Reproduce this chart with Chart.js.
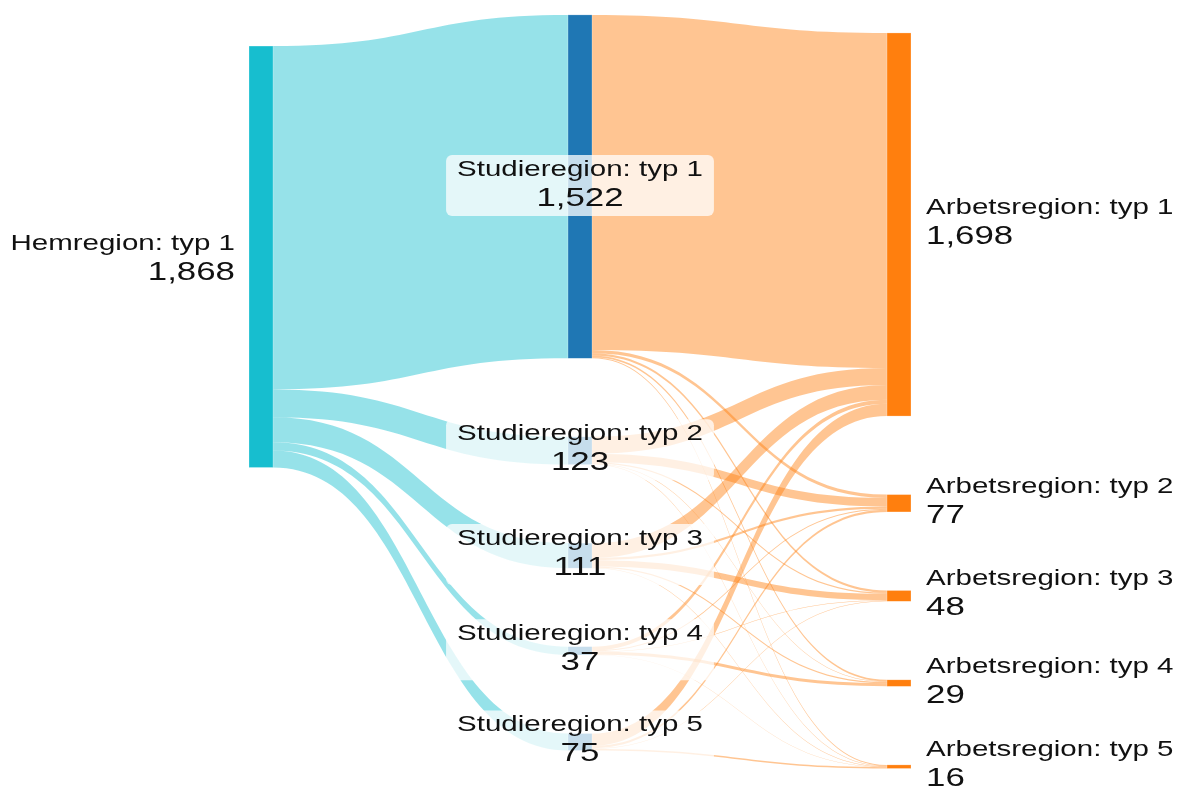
<!DOCTYPE html>
<html>
<head>
<meta charset="utf-8">
<script src="https://cdn.jsdelivr.net/npm/chart.js@4"></script>
<style>
  html, body { margin: 0; padding: 0; background: #fff; }
  canvas { display: block; }
</style>
</head>
<body>
<canvas id="grafico" width="1178" height="787"></canvas>
<script>
// noder, en lista per kolumn
const hemregioner = ["Hemregion: typ 1"];
const studieregioner = ["Studieregion: typ 1", "Studieregion: typ 2", "Studieregion: typ 3", "Studieregion: typ 4", "Studieregion: typ 5"];
const arbetsregioner = ["Arbetsregion: typ 1", "Arbetsregion: typ 2", "Arbetsregion: typ 3", "Arbetsregion: typ 4", "Arbetsregion: typ 5"];

// flöden hem -> studie
const hemTillStudie = [1522, 123, 111, 37, 75];

// flöden studie -> arbete (en rad per studieregion, kolumn = arbetsregion typ 1..5)
const studie1TillArbete = [1485, 15, 10, 7, 5];
const studie2TillArbete = [75, 38, 5, 3, 2];
const studie3TillArbete = [66, 10, 28, 5, 2];
const studie4TillArbete = [17, 4, 2, 13, 1];
const studie5TillArbete = [55, 10, 3, 1, 6];

// utseende
const nodFarger = ["#17becf", "#1f77b4", "#ff7f0e"];
const flodFarger = ["rgba(23,190,207,0.45)", "rgba(255,127,14,0.45)"];
const nodBredd = 24;
const kolumnTopp = [204, 66, 146];   // i y-skalans enheter
const nodAvstand = 348;
const strack = 1.34;                 // bilden är utdragen på bredden
const textFarg = "#111";

let kolumner = [hemregioner, studieregioner, arbetsregioner];
let studieTillArbete = [studie1TillArbete, studie2TillArbete, studie3TillArbete, studie4TillArbete, studie5TillArbete];

// bygg flöden
let floden = [];
hemTillStudie.forEach((v, j) => floden.push({ k: 0, s: 0, t: j, v: v }));
studieTillArbete.forEach((rad, i) => {
  rad.forEach((v, j) => floden.push({ k: 1, s: i, t: j, v: v }));
});

// nodvärden = max(in, ut)
let nodVarden = kolumner.map(lista => lista.map(() => ({ in: 0, ut: 0 })));
floden.forEach(f => {
  nodVarden[f.k][f.s].ut += f.v;
  nodVarden[f.k + 1][f.t].in += f.v;
});
nodVarden = nodVarden.map(lista => lista.map(n => Math.max(n.in, n.ut)));

function textRad(ctx, text, x, y, storlek, justering) {
  ctx.save();
  ctx.font = storlek + "px 'Liberation Sans', Arial, sans-serif";
  ctx.textAlign = justering;
  ctx.textBaseline = "alphabetic";
  ctx.translate(x, y);
  ctx.scale(strack, 1);
  ctx.fillText(text, 0, 0);
  ctx.restore();
}

function textBredd(ctx, text, storlek) {
  ctx.font = storlek + "px 'Liberation Sans', Arial, sans-serif";
  return ctx.measureText(text).width * strack;
}

const sankeyPlugin = {
  id: "sankey",
  afterDatasetsDraw(chart) {
    let ctx = chart.ctx;
    let xs = chart.scales.x;
    let ys = chart.scales.y;

    // nodernas lägen i skalans enheter
    let toppar = kolumner.map((lista, c) => {
      let y = kolumnTopp[c];
      return lista.map((n, i) => {
        let t = y;
        y += nodVarden[c][i] + nodAvstand;
        return t;
      });
    });

    let utOff = kolumner.map(lista => lista.map(() => 0));
    let inOff = kolumner.map(lista => lista.map(() => 0));

    // flöden
    floden.forEach(f => {
      let a = toppar[f.k][f.s] + utOff[f.k][f.s];
      let b = toppar[f.k + 1][f.t] + inOff[f.k + 1][f.t];
      utOff[f.k][f.s] += f.v;
      inOff[f.k + 1][f.t] += f.v;

      let x0 = xs.getPixelForValue(f.k) + nodBredd / 2;
      let x1 = xs.getPixelForValue(f.k + 1) - nodBredd / 2;
      let xm = (x0 + x1) / 2;
      let y0a = ys.getPixelForValue(a);
      let y0b = ys.getPixelForValue(a + f.v);
      let y1a = ys.getPixelForValue(b);
      let y1b = ys.getPixelForValue(b + f.v);

      ctx.beginPath();
      ctx.moveTo(x0, y0a);
      ctx.bezierCurveTo(xm, y0a, xm, y1a, x1, y1a);
      ctx.lineTo(x1, y1b);
      ctx.bezierCurveTo(xm, y1b, xm, y0b, x0, y0b);
      ctx.closePath();
      ctx.fillStyle = flodFarger[f.k];
      ctx.fill();
    });

    // noder
    kolumner.forEach((lista, c) => {
      lista.forEach((n, i) => {
        let x = xs.getPixelForValue(c) - nodBredd / 2;
        let y0 = ys.getPixelForValue(toppar[c][i]);
        let y1 = ys.getPixelForValue(toppar[c][i] + nodVarden[c][i]);
        ctx.fillStyle = nodFarger[c];
        ctx.fillRect(x, y0, nodBredd, y1 - y0);
        ctx.strokeStyle = "rgba(255,255,255,0.5)";
        ctx.lineWidth = 0.5;
        ctx.strokeRect(x, y0, nodBredd, y1 - y0);
      });
    });

    // etiketter
    kolumner.forEach((lista, c) => {
      lista.forEach((namn, i) => {
        let xc = xs.getPixelForValue(c);
        let yc = (ys.getPixelForValue(toppar[c][i]) + ys.getPixelForValue(toppar[c][i] + nodVarden[c][i])) / 2;
        let varde = nodVarden[c][i].toLocaleString("en-US");

        if (c === 1) {
          let b = Math.max(textBredd(ctx, namn, 22), textBredd(ctx, varde, 26)) + 22;
          ctx.save();
          ctx.fillStyle = "rgba(255,255,255,0.75)";
          ctx.beginPath();
          ctx.roundRect(xc - b / 2, yc - 31.5, b, 61, 6);
          ctx.fill();
          ctx.restore();
          ctx.fillStyle = textFarg;
          textRad(ctx, namn, xc, yc - 10.5, 22, "center");
          textRad(ctx, varde, xc, yc + 19.5, 26, "center");
        } else if (c === 0) {
          let x = xc - nodBredd / 2 - 14;
          ctx.fillStyle = textFarg;
          textRad(ctx, namn, x, yc - 7, 22, "right");
          textRad(ctx, varde, x, yc + 23, 26, "right");
        } else {
          let x = xc + nodBredd / 2 + 15;
          ctx.fillStyle = textFarg;
          textRad(ctx, namn, x, yc - 10.5, 22, "left");
          textRad(ctx, varde, x, yc + 19.5, 26, "left");
        }
      });
    });
  }
};

let chart = new Chart(document.getElementById("grafico"), {
  type: "scatter",
  data: { datasets: [{ data: [] }] },
  plugins: [sankeyPlugin],
  options: {
    responsive: false,
    animation: false,
    layout: { padding: { left: 261, right: 279, top: 0, bottom: 0 } },
    plugins: { legend: { display: false }, tooltip: { enabled: false } },
    scales: {
      x: { type: "linear", min: 0, max: 2, display: false },
      y: { type: "linear", min: 0, max: 3488, reverse: true, display: false }
    }
  }
});
</script>
</body>
</html>
